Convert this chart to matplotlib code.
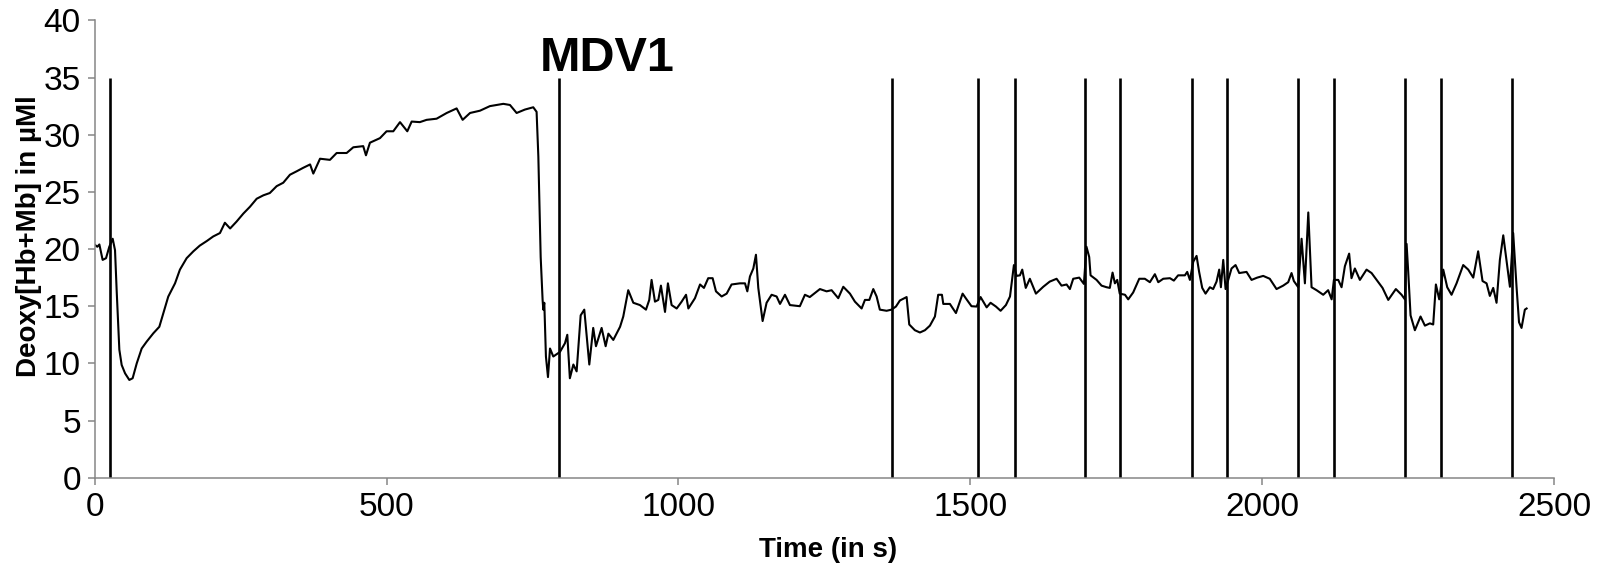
import matplotlib
matplotlib.use("Agg")
import matplotlib.pyplot as plt
import numpy as np

# trace (time in s, Deoxy[Hb+Mb] in uM)
time_s = [
    0.5, 4.5, 8, 13.6, 19.4, 25, 30.8, 34.8, 37.6, 42.2, 46.2, 52, 59.3, 65, 72, 80.5,
    89, 100.4, 110.7, 117.6, 126, 137.6, 146, 157.5, 169, 180, 192, 203, 214.6, 223,
    232, 243, 254.6, 266, 277.5, 289, 300, 311.7, 323, 334.5, 346, 357, 369, 374.5,
    386, 403, 414.5, 431.6, 443, 460, 464.7, 471.5, 488.7, 500, 511.5, 523, 535.5,
    543, 557, 568.6, 585.7, 603, 620, 630.3, 643, 660, 677, 700, 711.4, 722.8, 737,
    751.3, 757, 760, 764, 767.3, 768.5, 770.2, 773, 776.5, 780, 785.6,
    797, 805.6, 809.6, 814, 820, 825.6, 832.5, 838.7, 847.3, 854, 858.7, 868.4,
    875.3, 880, 888.4, 900, 905.5, 914, 922.7, 934, 944.4, 950, 954, 959.8, 965.5,
    970, 977, 982, 988.3, 997, 1005.5, 1013, 1017, 1028.3, 1037, 1043.7, 1051,
    1058.6, 1064.3, 1074, 1082.6, 1091, 1105.4, 1114, 1118, 1122.5, 1128.3, 1132.8,
    1136.8, 1144.2, 1151, 1159.6, 1168.2, 1174, 1182.5, 1191,
    1208, 1216.7, 1225, 1242.4, 1253.8, 1262.4, 1273.8, 1282.4, 1293.8, 1302.3,
    1313.8, 1319.5, 1327, 1333.8, 1339.5, 1345, 1356.6, 1365, 1372.6, 1379.4,
    1390.9, 1395.4, 1405, 1413.7, 1422.3, 1430.8, 1439.4, 1445, 1451.4, 1453.7,
    1465, 1475.4, 1486.8, 1493.6, 1502, 1510.8, 1517.6, 1528, 1534.7, 1543.9,
    1551.9, 1561, 1568, 1574.7, 1579.3, 1585, 1589, 1595, 1602, 1612.4, 1625,
    1636, 1647.8, 1656.3, 1665, 1670.6, 1676.3, 1686.6, 1694.6, 1699, 1703.7, 1706,
    1716.3, 1724.8, 1733.4, 1739, 1743.7, 1747.7, 1751.7, 1756, 1765, 1770.5, 1779,
    1789.4, 1799, 1807.6, 1816.2, 1822, 1830.5, 1842, 1848.7, 1856, 1867.6, 1871.6,
    1876.2, 1882, 1887.6, 1892, 1897.3, 1903, 1910.4, 1916, 1921.8, 1926.4, 1929.3,
    1933.3, 1937.3, 1941.8, 1947.5, 1954.4, 1960.7, 1973.2, 1981.8, 1991.5, 2001.8,
    2013, 2024.6, 2036, 2044.6, 2050.3, 2054.3, 2061.8, 2067.5, 2073.2, 2079,
    2084.6, 2093.2, 2104.6, 2113, 2119, 2122.9, 2130.3, 2136, 2141.7, 2149, 2153,
    2158.8, 2167.4, 2178.8, 2187.4, 2196, 2206.2, 2216, 2229, 2238.8, 2244.5,
    2247.4, 2250.2, 2254.2, 2261.6, 2271.3, 2278.8, 2287.3, 2293, 2297.6, 2303.3,
    2310.2, 2317, 2324.4, 2333, 2344.4, 2353, 2361.6, 2370, 2377.5, 2384.4, 2390,
    2395.8, 2401.5, 2407.2, 2413, 2419.8, 2424.4, 2430, 2435.8, 2440, 2444.3, 2450,
    2453,
]
deoxy = [
    20.36, 20.2, 20.4, 19.05, 19.2, 20.2, 20.9, 19.9, 16.4, 11.2, 9.86, 9.13, 8.55,
    8.7, 10.0, 11.3, 11.9, 12.63, 13.2, 14.4, 15.84, 17.0, 18.2, 19.2, 19.8, 20.3,
    20.7, 21.1, 21.4, 22.3, 21.8, 22.4, 23.1, 23.7, 24.4, 24.7, 24.9, 25.5, 25.8,
    26.5, 26.8, 27.1, 27.4, 26.6, 27.9, 27.8, 28.4, 28.4, 28.9, 29.0, 28.2, 29.3,
    29.7, 30.3, 30.3, 31.1, 30.3, 31.15, 31.1, 31.3, 31.4, 31.9, 32.3, 31.3, 31.9,
    32.1, 32.5, 32.7, 32.6, 31.9, 32.2, 32.4, 32.0, 28.1, 19.3, 15.55, 14.7, 15.3,
    10.6, 8.8, 11.3, 10.6,
    11.0, 11.76, 12.5, 8.7, 9.9, 9.3, 14.2, 14.7, 9.9, 13.1, 11.5, 13.1, 11.5, 12.6,
    12.05, 13.2, 14.1, 16.4, 15.3, 15.1, 14.7, 15.55, 17.3, 15.4, 15.55, 16.8, 14.5,
    17.0, 15.1, 14.8, 15.4, 16.0, 14.8, 15.7, 16.9, 16.6, 17.45, 17.45, 16.3, 15.85,
    16.1, 16.9, 17.0, 17.0, 16.3, 17.6, 18.3, 19.5, 16.6, 13.7, 15.3, 16.0, 15.85,
    15.2, 16.0, 15.1,
    15.0, 16.0, 15.8, 16.5, 16.3, 16.4, 15.7, 16.7, 16.1, 15.4, 14.8, 15.55, 15.55,
    16.5, 15.85, 14.7, 14.6, 14.7, 14.97, 15.5, 15.8, 13.4, 12.9, 12.7, 12.9, 13.3,
    14.1, 16.0, 16.0, 15.2, 15.2, 14.4, 16.1, 15.6, 15.0, 14.97, 15.8, 14.9, 15.3,
    14.97, 14.6, 15.1, 15.85, 18.6, 17.65, 17.7, 18.2, 16.6, 17.4, 16.1, 16.7,
    17.15, 17.4, 16.8, 16.9, 16.5, 17.4, 17.5, 16.95, 20.2, 19.3, 17.7, 17.3, 16.8,
    16.66, 16.6, 17.94, 17.0, 17.3, 16.1, 16.0, 15.6, 16.2, 17.4, 17.4, 17.1, 17.8,
    17.1, 17.4, 17.45, 17.24, 17.7, 17.7, 18.0, 17.3, 18.9, 19.4, 18.0, 16.6, 16.1,
    16.66, 16.5, 17.15, 18.2, 16.66, 19.05, 16.5, 17.3, 18.3, 18.6, 17.9, 18.0,
    17.3, 17.5, 17.65, 17.4, 16.5, 16.8, 17.1, 17.9, 17.2, 16.66, 20.9, 17.0, 23.2,
    16.66, 16.4, 16.0, 16.4, 15.6, 17.3, 17.3, 16.66, 18.5, 19.6, 17.45, 18.3, 17.3,
    18.2, 17.9, 17.3, 16.6, 15.55, 16.5, 16.0, 15.6, 20.45, 18.0, 14.2, 12.9, 14.1,
    13.3, 13.5, 13.4, 16.9, 15.6, 18.2, 16.66, 16.0, 17.0, 18.6, 18.2, 17.5, 19.8,
    17.2, 17.0, 15.9, 16.6, 15.3, 19.05, 21.2, 18.5, 16.7, 21.4, 16.66, 13.6, 13.1,
    14.7, 14.8,
]

# event markers (vertical lines)
event_times = [27, 796, 1366, 1514, 1577, 1697, 1757, 1879, 1940, 2062, 2123, 2245, 2306, 2428]
event_top = 35

x_ticks = [0, 500, 1000, 1500, 2000, 2500]
y_ticks = [0, 5, 10, 15, 20, 25, 30, 35, 40]

plt.rcParams["font.family"] = ["Liberation Sans", "DejaVu Sans"]

fig = plt.figure(figsize=(15.97, 5.66), dpi=100)
ax = fig.add_axes([0.0593, 0.156, 0.9138, 0.808])

ax.plot(time_s, deoxy, color="black", linewidth=1.5)
ax.vlines(event_times, 0, event_top, color="black", linewidth=1.9)

ax.text(763, 35.55, "MDV1", fontsize=35, fontweight="bold", ha="left", va="baseline")

ax.set_xlim(0, 2500)
ax.set_ylim(0, 40)
ax.set_xticks(x_ticks)
ax.set_yticks(y_ticks)

for side in ["top", "right"]:
    ax.spines[side].set_visible(False)
for side in ["left", "bottom"]:
    ax.spines[side].set_color("#868686")
    ax.spines[side].set_linewidth(1.1)

ax.tick_params(axis="both", colors="#868686", labelcolor="black", labelsize=24,
               length=5, width=1.1, direction="out")
ax.tick_params(axis="x", pad=5)
ax.tick_params(axis="y", pad=5)

ax.set_xlabel("Time (in s)", fontsize=20, fontweight="bold")
ax.set_ylabel("Deoxy[Hb+Mb] in µMl", fontsize=20, fontweight="bold")
ax.xaxis.set_label_coords(0.5025, -0.13)
ax.yaxis.set_label_coords(-0.036, 0.528)

fig.savefig("out.png", dpi=100)
